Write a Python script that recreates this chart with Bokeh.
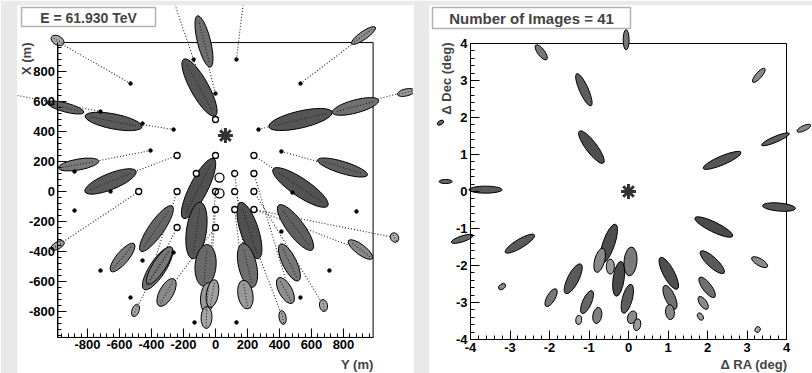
import numpy as np
from bokeh.plotting import figure
from bokeh.models import Range1d, LinearAxis, FixedTicker, Label, BoxAnnotation
from bokeh.layouts import row
from bokeh.embed import file_html
from bokeh.resources import INLINE

FONT = "Liberation Sans"
BG = "#e9e9e9"

# ---------------- Left panel: ground plane (metres) ----------------
core_y = [62]
core_x = [373]

ell_y = [-987, -72, -100, 925, 1190, -937, -637, 531, 875, -856, 794, -656, 531, -987,
         -369, -581, -362, -350, -306, -500, -106, -119, -62, -50, -19, -56,
         212, 200, 187, 500, 462, 437, 419, 675, 906, 1119]
ell_x = [1007, 1000, 693, 1040, 660, 560, 467, 480, 567, 180, 160, 67, 27, -360,
         -247, -440, -513, -493, -673, -793, 20, -260, -493, -707, -680, -840,
         -260, -493, -687, -240, -473, -660, -840, -760, -387, -307]
ell_len = [88, 331, 406, 181, 110, 237, 362, 406, 300, 256, 325, 344, 412, 94,
           344, 225, 312, 275, 194, 81, 419, 356, 262, 187, 175, 137,
           369, 281, 181, 350, 256, 181, 87, 75, 187, 62]
ell_wid = [60, 87, 120, 53, 47, 60, 100, 113, 87, 73, 80, 107, 120, 47,
           100, 80, 107, 87, 93, 47, 120, 133, 140, 93, 80, 73,
           120, 120, 100, 113, 93, 87, 47, 53, 67, 53]
ell_ang = [150, 104, 119, 35, 13, -15, -11, 13, 15, 10, -17, 22, -34, 30,
           55, 50, 57, 57, 61, 70, 63, 82, 85, 85, 80, 88,
           108, 103, 100, 127, 116, 119, 100, 100, 143, 120]
ell_col = ["#a8a8a8", "#6e6e6e", "#555555", "#8c8c8c", "#9a9a9a", "#666666", "#5a5a5a",
           "#555555", "#707070", "#7a7a7a", "#606060", "#5a5a5a", "#525252", "#a0a0a0",
           "#666666", "#7a7a7a", "#707070", "#777777", "#8a8a8a", "#a5a5a5", "#505050",
           "#555555", "#6a6a6a", "#9a9a9a", "#a0a0a0", "#a5a5a5",
           "#505050", "#6e6e6e", "#999999", "#606060", "#777777", "#8e8e8e", "#a0a0a0",
           "#a8a8a8", "#888888", "#aaaaaa"]

tel_y = [0, -240, 0, 240, -120, 120, 240, -480, -240, 0, 120, 240, 0, 120, 240, -240, 0]
tel_x = [480, 240, 240, 240, 120, 120, 120, 0, 0, 0, 0, 0, -120, -120, -120, -240, -240]
round_y = [25, 25]
round_x = [93, -13]

dot_y = [-531, 131, 0, -137, -719, -262, -456, 269, 531, -406, 412, -881, -656,
         -881, -456, -719, -531, -131, 131, 412, 531, 712, 881, 481, -262]
dot_x = [720, 880, 653, 880, 533, 413, 453, 413, 720, 273, 267, 133, 0,
         -127, -460, -527, -707, -873, -873, -267, -707, -527, -133, -7, -407]

seg_y0 = [-531, 131, -137, 0, 0, 531, -1237, -262, 269, -406, 412, -240, 240, 0,
          -120, 120, 240, 0, 120, 240, 240, 120, 0, -240, 0, -480, -240, 240]
seg_x0 = [720, 880, 880, 653, 487, 720, 640, 413, 413, 273, 267, 240, 240, 240,
          120, 120, 120, 0, 0, 0, -120, -120, -120, -240, -240, 0, 0, -120]
seg_y1 = [-1000, 175, -262, -125, -137, 925, -719, -812, 1219, -981, 950, -812, 700, -200,
          -144, 219, 481, -60, 419, 675, 1119, 190, -50, -500, -306, -987, -400, 906]
seg_x1 = [1007, 1273, 1273, 1173, 880, 1040, 533, 507, 673, 153, 107, 7, -93, -180,
          -450, -780, -740, -860, -840, -760, -307, -727, -860, -793, -673, -360, -520, -387]

L_ticks = [-800, -600, -400, -200, 0, 200, 400, 600, 800]
L_labels = ["-800", "-600", "-400", "-200", "0", "200", "400", "600", "800"]
L_frame_y = (-985, 985)    # horizontal axis "Y (m)"
L_frame_x = (-973, 993)    # vertical axis "X (m)"

# ---------------- Right panel: camera plane (degrees) ----------------
img_ra = [-2.21, -0.06, -1.13, -0.94, 3.30, 4.44, 3.72, 2.37, -4.63, -3.62, 3.81, 2.16,
          -4.21, -2.75, -0.50, -0.73, -0.46, 0.05, -0.25, 1.02, 2.12, 3.32, -1.40,
          -3.20, -1.96, -1.05, -0.03, 1.05, 1.99, 1.89, -0.79, -1.26, 0.09, 0.22,
          1.05, 1.82, 3.27, -4.76]
img_dec = [3.76, 4.10, 2.75, 1.20, 3.14, 1.71, 1.41, 0.84, 0.27, 0.05, -0.42, -0.96,
           -1.28, -1.41, -1.41, -1.86, -2.03, -1.89, -2.36, -2.21, -1.91, -1.91, -2.36,
           -2.57, -2.87, -2.99, -2.90, -2.86, -2.59, -3.01, -3.35, -3.47, -3.40, -3.60,
           -3.26, -3.38, -3.73, 1.86]
img_len = [0.46, 0.51, 0.89, 1.01, 0.46, 0.38, 0.76, 1.04, 0.33, 0.84, 0.84, 1.06,
           0.58, 0.86, 1.04, 0.63, 0.38, 0.73, 0.89, 0.91, 0.81, 0.46, 0.84,
           0.20, 0.51, 0.63, 0.76, 0.66, 0.63, 0.38, 0.41, 0.23, 0.33, 0.30,
           0.38, 0.20, 0.15, 0.18]
img_wid = [0.19, 0.16, 0.24, 0.30, 0.16, 0.14, 0.16, 0.24, 0.11, 0.19, 0.22, 0.27,
           0.16, 0.24, 0.32, 0.27, 0.22, 0.35, 0.30, 0.30, 0.27, 0.19, 0.30,
           0.14, 0.22, 0.24, 0.27, 0.27, 0.24, 0.19, 0.24, 0.16, 0.24, 0.19,
           0.24, 0.14, 0.14, 0.11]
img_ang = [127, 90, 114, 127, 49, 25, 23, 23, 0, 0, -5, -26,
           18, 31, 71, 75, 90, 85, 82, 118, 137, 150, 63,
           35, 60, 66, 75, 115, 127, 125, 80, 80, 70, 80,
           95, 120, 60, 30]
img_col = ["#777777", "#777777", "#5e5e5e", "#4e4e4e", "#8a8a8a", "#8a8a8a", "#5e5e5e",
           "#555555", "#666666", "#5a5a5a", "#555555", "#4a4a4a", "#666666", "#5a5a5a",
           "#4e4e4e", "#888888", "#9a9a9a", "#7a7a7a", "#4a4a4a", "#4e4e4e", "#5a5a5a",
           "#8a8a8a", "#5a5a5a", "#888888", "#777777", "#666666", "#5e5e5e", "#707070",
           "#707070", "#8a8a8a", "#808080", "#aaaaaa", "#8a8a8a", "#9a9a9a", "#888888",
           "#999999", "#aaaaaa", "#666666"]
src_ra = [0.0]
src_dec = [0.0]

R_ticks = [-4, -3, -2, -1, 0, 1, 2, 3, 4]
R_labels = ["-4", "-3", "-2", "-1", "0", "1", "2", "3", "4"]
R_frame = (-4, 4)

title_left = "E = 61.930 TeV"
title_right = "Number of Images = 41"

# ---------------- layout constants (pixels) ----------------
# left panel: figure occupies x 0..413, frame (white pad) 17..413, y 5..373
LSX, LSY = 0.16, 0.15           # px per metre
L0X, L0Y = 215, 191             # pixel of (0,0)
# right panel: figure occupies 413..812, frame 429..812
RSX, RSY = 39.5, 37.0           # px per degree
R0X, R0Y = 628, 191


def lpx(px, py):
    return (px - L0X) / LSX, (L0Y - py) / LSY


def rpx(px, py):
    return (px - R0X) / RSX, (R0Y - py) / RSY


def style_axis(ax, ticks, labels):
    ax.ticker = FixedTicker(ticks=ticks, minor_ticks=[])
    ax.major_label_overrides = {t: s for t, s in zip(ticks, labels)}
    ax.major_tick_in = 9
    ax.major_tick_out = 0
    ax.minor_tick_in = 4
    ax.minor_tick_out = 0
    ax.axis_line_color = "black"
    ax.axis_line_width = 1
    ax.major_tick_line_color = "black"
    ax.minor_tick_line_color = "black"
    ax.major_label_text_font = FONT
    ax.major_label_text_font_style = "bold"
    ax.major_label_text_font_size = "13px"
    ax.major_label_text_color = "black"
    ax.major_label_standoff = 3


def minor_list(lo, hi, step, majors):
    vals = []
    v = np.ceil(lo / step) * step
    while v <= hi + 1e-9:
        if not any(abs(v - m) < 1e-9 for m in majors):
            vals.append(round(float(v), 6))
        v += step
    return vals


# ================= LEFT FIGURE =================
lx0, ly1 = lpx(17, 5)
lx1, ly0 = lpx(413, 373)
p1 = figure(width=413, height=373, x_range=Range1d(lx0, lx1), y_range=Range1d(ly0, ly1),
            x_axis_type=None, y_axis_type=None, toolbar_location=None,
            output_backend="svg", min_border_left=17, min_border_top=5,
            min_border_right=0, min_border_bottom=0)
p1.border_fill_color = BG
p1.background_fill_color = "white"
p1.outline_line_color = None

p1.quad(left=[L_frame_y[0]], right=[L_frame_y[1]], bottom=[L_frame_x[0]], top=[L_frame_x[1]],
        fill_color=None, line_color="black", line_width=1)

p1.segment(x0=seg_y0, y0=seg_x0, x1=seg_y1, y1=seg_x1, line_color="#222222",
           line_width=1.1, line_dash="1 2")
p1.ellipse(x=ell_y, y=ell_x, width=ell_len, height=ell_wid, angle=ell_ang,
           angle_units="deg", fill_color=ell_col, line_color="black", line_width=1)
# dotted major axes inside the images
th = np.radians(np.array(ell_ang, dtype=float))
half = 0.5 * 0.8 * np.array(ell_len, dtype=float)
ey = np.array(ell_y, dtype=float)
ex = np.array(ell_x, dtype=float)
dY = half * np.cos(th)
dX = half * np.sin(th) * LSX / LSY
p1.segment(x0=ey - dY, y0=ex - dX, x1=ey + dY, y1=ex + dX, line_color="#222222",
           line_width=1.1, line_dash="1 2")

p1.scatter(x=dot_y, y=dot_x, size=3.5, marker="circle", color="black")
p1.scatter(x=tel_y, y=tel_x, size=6, marker="circle", fill_color="white",
           line_color="black", line_width=1.3)
p1.scatter(x=round_y, y=round_x, size=9, marker="circle", fill_color="white",
           fill_alpha=0.0, line_color="black", line_width=1.3)
p1.scatter(x=core_y, y=core_x, size=15, marker="asterisk", line_color="#333333",
           line_width=3)

axL = LinearAxis(fixed_location=L_frame_y[0], bounds=L_frame_x)
style_axis(axL, L_ticks, L_labels)
axL.ticker = FixedTicker(ticks=L_ticks, minor_ticks=minor_list(L_frame_x[0], L_frame_x[1], 40, L_ticks))
p1.add_layout(axL, "left")
axB = LinearAxis(fixed_location=L_frame_x[0], bounds=L_frame_y)
style_axis(axB, L_ticks, L_labels)
axB.ticker = FixedTicker(ticks=L_ticks, minor_ticks=minor_list(L_frame_y[0], L_frame_y[1], 40, L_ticks))
p1.add_layout(axB, "below")

bl, bt = lpx(21, 7)
br, bb = lpx(155, 26)
p1.add_layout(BoxAnnotation(left=bl, right=br, top=bt, bottom=bb, fill_color="white",
                            fill_alpha=1.0, line_color="black", line_width=1.5, level="overlay"))
tx, ty = lpx(88, 17)
p1.add_layout(Label(x=tx, y=ty, text=title_left, text_font=FONT, text_font_style="bold",
                    text_font_size="14px", text_align="center", text_baseline="middle",
                    level="overlay"))
ax_t_x, ax_t_y = lpx(373, 356)
p1.add_layout(Label(x=ax_t_x, y=ax_t_y, text="Y (m)", text_font=FONT, text_font_style="bold",
                    text_font_size="13px", text_align="right", text_baseline="top"))
ay_t_x, ay_t_y = lpx(26, 42)
p1.add_layout(Label(x=ay_t_x, y=ay_t_y, text="X (m)", text_font=FONT, text_font_style="bold",
                    text_font_size="13px", text_align="right", text_baseline="middle",
                    angle=np.pi / 2))

# ================= RIGHT FIGURE =================
rx0, ry1 = rpx(429, 5)
rx1, ry0 = rpx(812, 373)
p2 = figure(width=399, height=373, x_range=Range1d(rx0, rx1), y_range=Range1d(ry0, ry1),
            x_axis_type=None, y_axis_type=None, toolbar_location=None,
            output_backend="svg", min_border_left=16, min_border_top=5,
            min_border_right=0, min_border_bottom=0)
p2.border_fill_color = BG
p2.background_fill_color = "white"
p2.outline_line_color = None

p2.quad(left=[R_frame[0]], right=[R_frame[1]], bottom=[R_frame[0]], top=[R_frame[1]],
        fill_color=None, line_color="black", line_width=1)
p2.ellipse(x=img_ra, y=img_dec, width=img_len, height=img_wid, angle=img_ang,
           angle_units="deg", fill_color=img_col, line_color="black", line_width=1)
p2.scatter(x=src_ra, y=src_dec, size=15, marker="asterisk", line_color="#333333",
           line_width=3)

axL2 = LinearAxis(fixed_location=R_frame[0], bounds=R_frame)
style_axis(axL2, R_ticks, R_labels)
axL2.ticker = FixedTicker(ticks=R_ticks, minor_ticks=minor_list(-4, 4, 0.2, R_ticks))
p2.add_layout(axL2, "left")
axB2 = LinearAxis(fixed_location=R_frame[0], bounds=R_frame)
style_axis(axB2, R_ticks, R_labels)
axB2.ticker = FixedTicker(ticks=R_ticks, minor_ticks=minor_list(-4, 4, 0.2, R_ticks))
p2.add_layout(axB2, "below")

bl, bt = rpx(432, 7)
br, bb = rpx(630, 28)
p2.add_layout(BoxAnnotation(left=bl, right=br, top=bt, bottom=bb, fill_color="white",
                            fill_alpha=1.0, line_color="black", line_width=1.5, level="overlay"))
tx, ty = rpx(531, 18)
p2.add_layout(Label(x=tx, y=ty, text=title_right, text_font=FONT, text_font_style="bold",
                    text_font_size="15px", text_align="center", text_baseline="middle",
                    level="overlay"))
rx_t, ry_t = rpx(787, 356)
p2.add_layout(Label(x=rx_t, y=ry_t, text="\u0394 RA (deg)", text_font=FONT,
                    text_font_style="bold", text_font_size="13px", text_align="right",
                    text_baseline="top"))
dx_t, dy_t = rpx(446, 42)
p2.add_layout(Label(x=dx_t, y=dy_t, text="\u0394 Dec (deg)", text_font=FONT,
                    text_font_style="bold", text_font_size="13px", text_align="right",
                    text_baseline="middle", angle=np.pi / 2))

layout = row(p1, p2, spacing=0)
open("out.html", "w").write(file_html(layout, INLINE))
